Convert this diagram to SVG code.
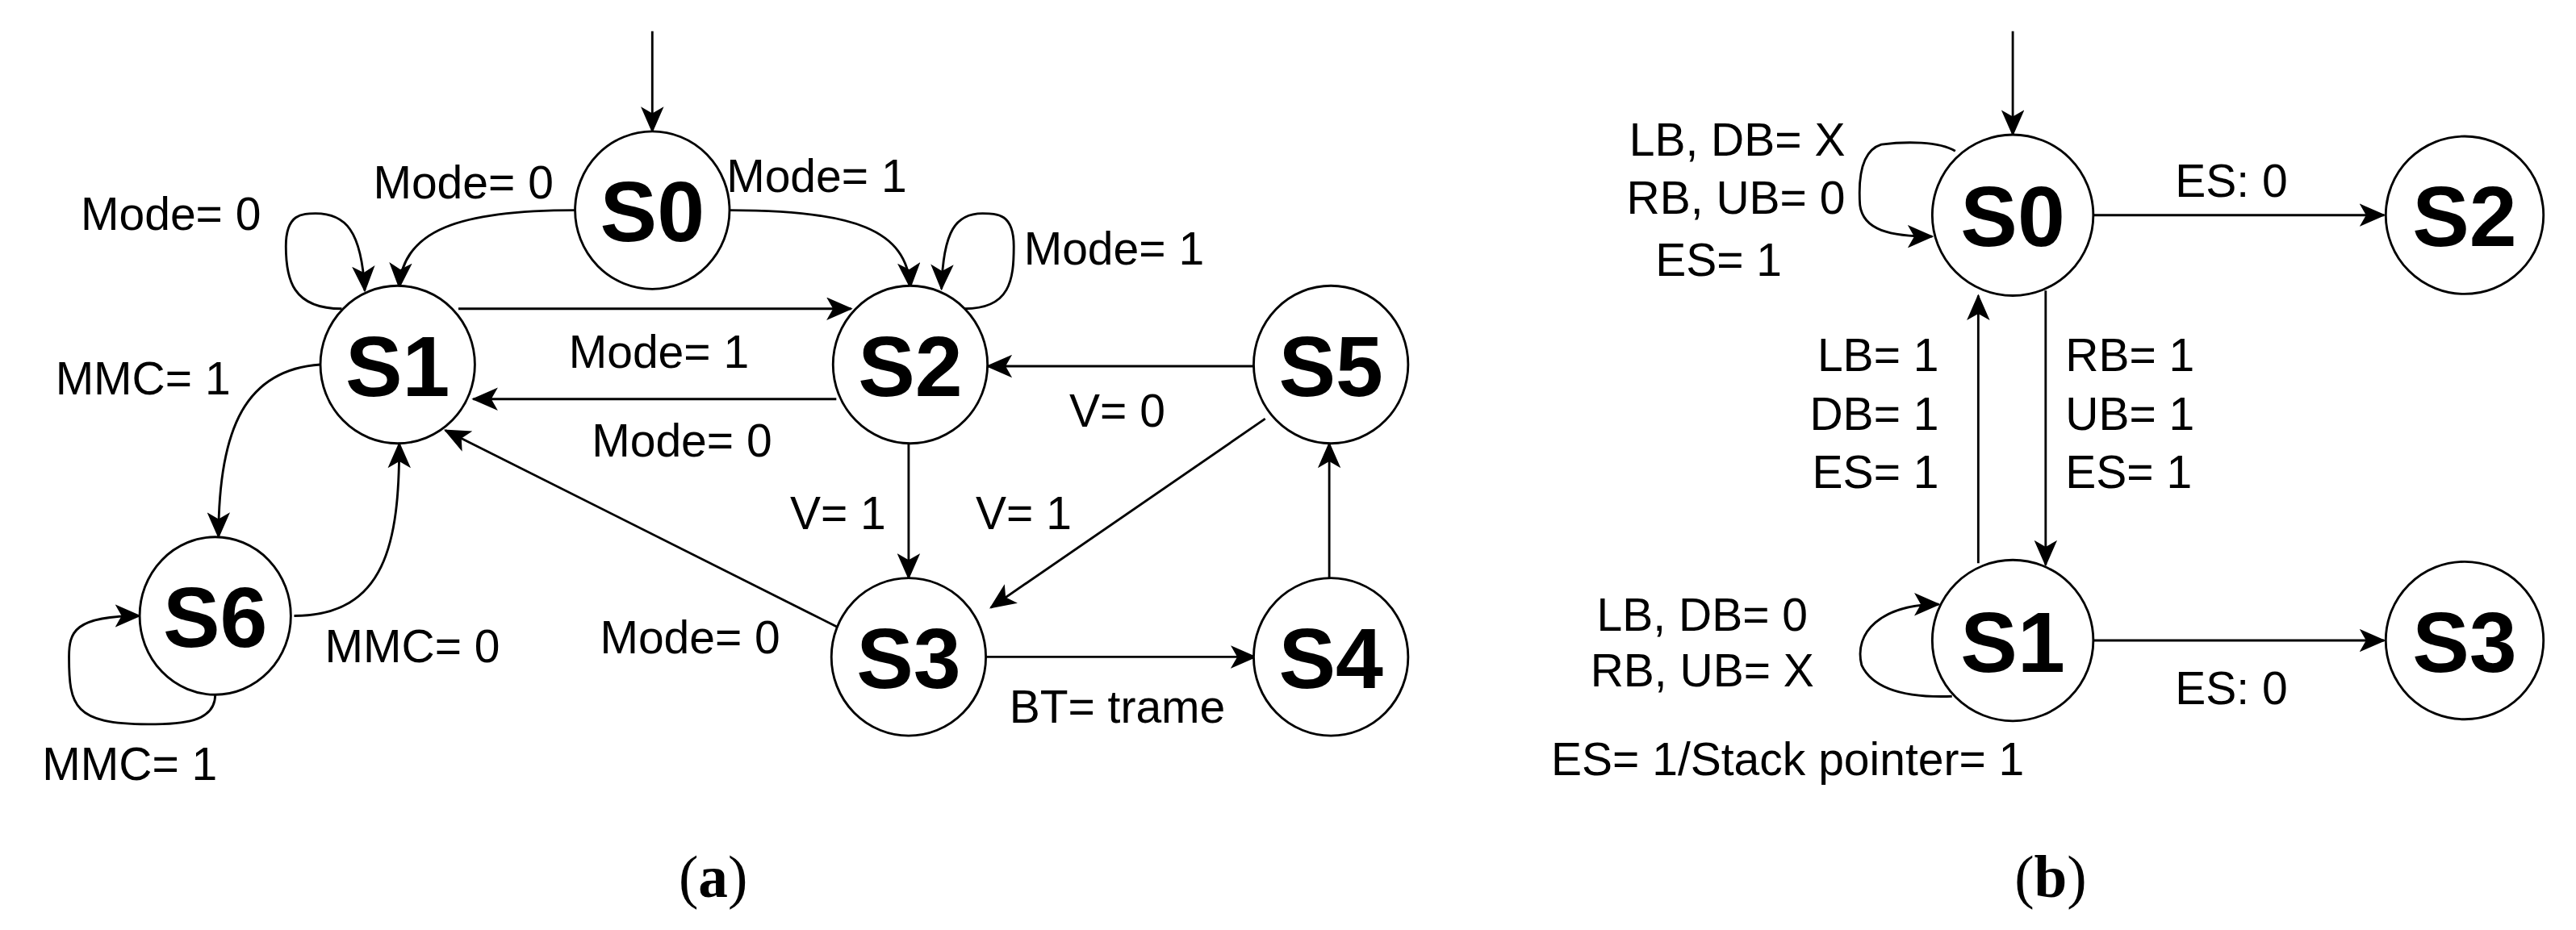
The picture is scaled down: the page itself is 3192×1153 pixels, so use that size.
<svg xmlns="http://www.w3.org/2000/svg" width="3192" height="1153" viewBox="0 0 3192 1153">
<style>
.n{fill:#fff;stroke:#000;stroke-width:1.4}
.s{font-family:"Liberation Sans",Arial,sans-serif;font-weight:bold;font-size:52px;text-anchor:middle}
.t{font-family:"Liberation Sans",Arial,sans-serif;font-size:28px;text-anchor:middle}
.r{text-anchor:end}
.l{text-anchor:start}
.e{fill:none;stroke:#000;stroke-width:1.4;marker-end:url(#a)}
.c{font-family:"Liberation Serif","Times New Roman",serif;font-size:36px;text-anchor:middle}
</style>
<defs><marker id="a" markerWidth="16" markerHeight="14" refX="15" refY="7" orient="auto" markerUnits="userSpaceOnUse"><path d="M0,0 L16,7 L0,14 L4,7z" fill="#000"/></marker></defs>
<rect width="3192" height="1153" fill="#fff"/>
<g transform="scale(2.036)">
<g id="connectors">
<path class="e" d="M397,19 V80"/>
<path class="e" d="M350,128 C280,128 245,140 243,175"/>
<path class="e" d="M444,128 C520,128 552,140 554,175"/>
<path class="e" d="M208,188 C178,188 174,170 174,150 C174,130 184,130 192,130 C210,130 220,140 222,177"/>
<path class="e" d="M587,188 C615,188 617,170 617,150 C617,130 607,130 598,130 C582,130 574,140 573,176"/>
<path class="e" d="M279,188 H518"/>
<path class="e" d="M509,243 H288"/>
<path class="e" d="M764,223 H601"/>
<path class="e" d="M553,270 V352"/>
<path class="e" d="M770,255 L603,370"/>
<path class="e" d="M510,382 L271,262"/>
<path class="e" d="M598,400 H764"/>
<path class="e" d="M809,352 V270"/>
<path class="e" d="M195,222 C150,225 133,260 133,327"/>
<path class="e" d="M179,375 C235,375 243,330 243,270"/>
<path class="e" d="M131,423 C131,440 110,441 90,441 C45,441 42,430 42,400 C42,385 45,375 85,375"/>
<path class="e" d="M1225,19 V82"/>
<path class="e" d="M1274,131 H1451"/>
<path class="e" d="M1245,177 V344"/>
<path class="e" d="M1204,343 V180"/>
<path class="e" d="M1274,390 H1451"/>
<path class="e" d="M1190,92 C1180,86 1160,86 1145,88 C1132,92 1131,110 1132,125 C1134,140 1150,144 1176,144"/>
<path class="e" d="M1188,424 C1160,425 1140,420 1133,405 C1128,385 1145,368 1180,368"/>
</g>
<g id="S0a"><ellipse class="n" cx="397" cy="128" rx="47" ry="48"/><text class="s" x="397" y="147">S0</text></g>
<g id="S1a"><ellipse class="n" cx="242" cy="222" rx="47" ry="48"/><text class="s" x="242" y="241">S1</text></g>
<g id="S2a"><ellipse class="n" cx="554" cy="222" rx="47" ry="48"/><text class="s" x="554" y="241">S2</text></g>
<g id="S5a"><ellipse class="n" cx="810" cy="222" rx="47" ry="48"/><text class="s" x="810" y="241">S5</text></g>
<g id="S6a"><ellipse class="n" cx="131" cy="375" rx="46" ry="48"/><text class="s" x="131" y="394">S6</text></g>
<g id="S3a"><ellipse class="n" cx="553" cy="400" rx="47" ry="48"/><text class="s" x="553" y="419">S3</text></g>
<g id="S4a"><ellipse class="n" cx="810" cy="400" rx="47" ry="48"/><text class="s" x="810" y="419">S4</text></g>
<g id="S0b"><ellipse class="n" cx="1225" cy="131" rx="49" ry="49"/><text class="s" x="1225" y="150">S0</text></g>
<g id="S2b"><ellipse class="n" cx="1500" cy="131" rx="48" ry="48"/><text class="s" x="1500" y="150">S2</text></g>
<g id="S1b"><ellipse class="n" cx="1225" cy="390" rx="49" ry="49"/><text class="s" x="1225" y="409">S1</text></g>
<g id="S3b"><ellipse class="n" cx="1500" cy="390" rx="48" ry="48"/><text class="s" x="1500" y="409">S3</text></g>
<g id="labels">
<text class="t" x="282" y="121">Mode= 0</text>
<text class="t" x="497" y="117">Mode= 1</text>
<text class="t" x="104" y="140">Mode= 0</text>
<text class="t" x="678" y="161">Mode= 1</text>
<text class="t" x="87" y="240">MMC= 1</text>
<text class="t" x="401" y="224">Mode= 1</text>
<text class="t" x="415" y="278">Mode= 0</text>
<text class="t" x="680" y="260">V= 0</text>
<text class="t" x="510" y="322">V= 1</text>
<text class="t" x="623" y="322">V= 1</text>
<text class="t" x="420" y="398">Mode= 0</text>
<text class="t" x="251" y="403">MMC= 0</text>
<text class="t" x="79" y="475">MMC= 1</text>
<text class="t" x="680" y="440">BT= trame</text>
<text class="c" x="434" y="546">(<tspan font-weight="bold">a</tspan>)</text>
<text class="t" x="1358" y="120">ES: 0</text>
<text class="t" x="1358" y="429">ES: 0</text>
<text class="t l" x="1257" y="226">RB= 1</text>
<text class="t l" x="1257" y="262">UB= 1</text>
<text class="t l" x="1257" y="297">ES= 1</text>
<text class="t r" x="1180" y="226">LB= 1</text>
<text class="t r" x="1180" y="262">DB= 1</text>
<text class="t r" x="1180" y="297">ES= 1</text>
<text class="t r" x="1123" y="95">LB, DB= X</text>
<text class="t r" x="1123" y="130">RB, UB= 0</text>
<text class="t" x="1046" y="168">ES= 1</text>
<text class="t" x="1036" y="384">LB, DB= 0</text>
<text class="t" x="1036" y="418">RB, UB= X</text>
<text class="t" x="1088" y="472">ES= 1/Stack pointer= 1</text>
<text class="c" x="1248" y="546">(<tspan font-weight="bold">b</tspan>)</text>
</g>
</g>
</svg>
